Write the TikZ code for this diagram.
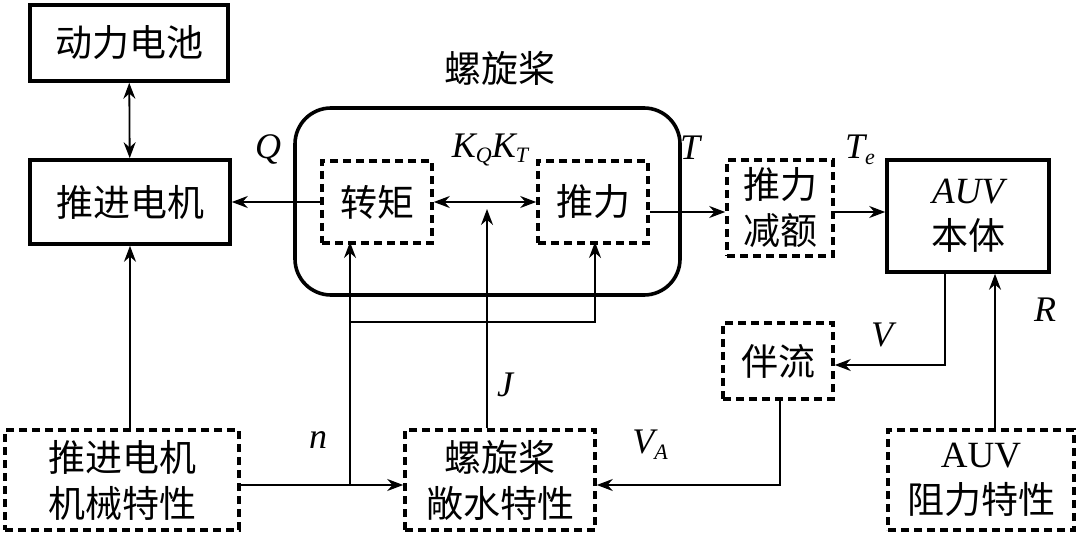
\documentclass[tikz,border=0pt]{standalone}
\usepackage{fontspec}
\setmainfont{Liberation Serif}
\newfontfamily\cjk{Noto Sans CJK SC}
\usetikzlibrary{arrows.meta}
\newcommand{\lsub}[2]{\textit{#1}\raisebox{-0.35ex}{\fontsize{11}{12}\selectfont\textit{#2}}}
\begin{document}
\begin{tikzpicture}[x=0.5pt,y=-0.5pt,
  box/.style={draw,line width=1.8pt,inner sep=0pt,font=\cjk\fontsize{18.5}{23}\selectfont,align=center},
  dbox/.style={box,dash pattern=on 4pt off 2.5pt},
  lab/.style={font=\fontsize{18}{20}\selectfont\itshape},
  ar/.style={line width=0.9pt,-{Stealth[length=8pt,width=6pt]}},
  dar/.style={line width=0.9pt,{Stealth[length=8pt,width=6pt]}-{Stealth[length=8pt,width=6pt]}}]
\useasboundingbox (0,0) rectangle (1080,539);
\node[box,minimum width=99pt,minimum height=38pt] (bat) at (129,43) {动力电池};
\node[box,minimum width=100pt,minimum height=42pt] (mot) at (130,202) {推进电机};
\draw[line width=1.8pt,rounded corners=18pt] (295,108) rectangle (680,295);
\node[font=\cjk\fontsize{18.5}{23}\selectfont] (lp) at (500,68) {螺旋桨};
\node[dbox,minimum width=55pt,minimum height=41pt] (tq) at (377,202) {转矩};
\node[dbox,minimum width=55pt,minimum height=41pt] (th) at (593,202) {推力};
\node[dbox,minimum width=53pt,minimum height=48pt] (red) at (780,208) {推力\\减额};
\node[box,minimum width=81pt,minimum height=56pt] (auv) at (968,216) {{\rmfamily\itshape AUV}\\本体};
\node[dbox,minimum width=55pt,minimum height=38pt] (wake) at (778,361) {伴流};
\node[dbox,minimum width=117pt,minimum height=50pt] (mch) at (122,480) {推进电机\\机械特性};
\node[dbox,minimum width=95pt,minimum height=50pt] (ow) at (500,480) {螺旋桨\\敞水特性};
\node[dbox,minimum width=93pt,minimum height=50pt] (res) at (981,480) {{\rmfamily AUV}\\阻力特性};
\node[lab] (kq) at (490,150) {\lsub{K}{Q}\lsub{K}{T}};
\node[lab] (q) at (268,150) {Q};
\node[lab] (t) at (690,148) {T};
\node[lab] (te) at (860,150) {\lsub{T}{e}};
\node[lab] (v) at (882,335) {V};
\node[lab] (va) at (650,445) {\lsub{V}{A}};
\node[lab] (j) at (505,385) {J};
\node[lab] (n) at (318,440) {n};
\node[lab] (r) at (1045,310) {R};
\draw[dar] (bat) -- (mot);
\draw[ar] (tq) -- (mot);
\draw[dar] (tq) -- (th);
\draw[ar] (th.east |- 0,212) -- (red.west |- 0,212);
\draw[ar] (red.east |- 0,212) -- (auv.west |- 0,212);
\draw[ar] (mch.north -| 130,0) -- (mot.south -| 130,0);
\draw[ar] (mch.east |- 0,485) -- (ow.west |- 0,485);
\coordinate (j1) at (350,485);
\coordinate (j2) at (350,322);
\coordinate (j3) at (595,322);
\draw[ar] (j1) -- (350,242);
\draw[ar] (j2) -- (j3) -- (595,242);
\draw[ar] (ow.north -| 487,0) -- (487,209);
\coordinate (a1) at (945,365);
\draw[ar] (auv.south -| 945,0) -- (a1) -- (wake.east |- a1);
\coordinate (w1) at (780,485);
\draw[ar] (wake.south -| 780,0) -- (w1) -- (ow.east |- w1);
\draw[ar] (res.north -| 995,0) -- (auv.south -| 995,0);
\end{tikzpicture}
\end{document}
